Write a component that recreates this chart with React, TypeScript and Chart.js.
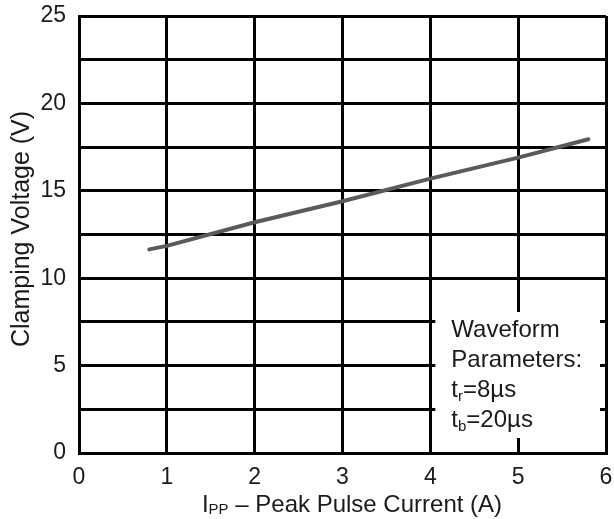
import React, { useEffect, useRef } from 'react';
import { Chart, registerables } from 'chart.js';

Chart.register(...registerables);

const currentA = [0.8, 1, 2, 3, 4, 5, 5.8];
const clampV = [11.65, 11.85, 13.2, 14.4, 15.7, 16.9, 17.95];
const xTickValues = [0, 1, 2, 3, 4, 5, 6];
const yLabelStep = 5;
const yGridStep = 2.5;
const yAxisTitle = 'Clamping Voltage (V)';
const xTitleMain = 'I';
const xTitleSub = 'PP';
const xTitleRest = ' \u2013 Peak Pulse Current (A)';
const noteLines: [string, string, string][] = [
  ['Waveform', '', ''],
  ['Parameters:', '', ''],
  ['t', 'r', '=8\u00b5s'],
  ['t', 'b', '=20\u00b5s'],
];

const FONT = '"Liberation Sans", Arial, sans-serif';
const TEXT = '#1a1a1a';

const annotPlugin = {
  id: 'annot',
  afterDraw(chart: any) {
    const { ctx, chartArea: a, scales } = chart;
    const x = scales.x;
    ctx.save();
    // note box
    const bx0 = x.getPixelForValue(4) + 5;
    const bx1 = x.getPixelForValue(6) - 6;
    const by0 = 312;
    const by1 = a.bottom - 15;
    ctx.fillStyle = '#ffffff';
    ctx.fillRect(bx0, by0, bx1 - bx0, by1 - by0);
    ctx.fillStyle = TEXT;
    ctx.textBaseline = 'alphabetic';
    ctx.textAlign = 'left';
    const tx = bx0 + 16;
    let by = 337;
    noteLines.forEach(([main, sub, rest]) => {
      ctx.font = `24px ${FONT}`;
      ctx.fillText(main, tx, by);
      let cx = tx + ctx.measureText(main).width;
      if (sub) {
        ctx.font = `15px ${FONT}`;
        ctx.fillText(sub, cx, by + 4);
        cx += ctx.measureText(sub).width;
        ctx.font = `24px ${FONT}`;
        ctx.fillText(rest, cx, by);
      }
      by += 29.9;
    });
    // x axis title
    ctx.font = `24px ${FONT}`;
    const w1 = ctx.measureText(xTitleMain).width;
    const w3 = ctx.measureText(xTitleRest).width;
    ctx.font = `15px ${FONT}`;
    const w2 = ctx.measureText(xTitleSub).width;
    const total = w1 + w2 + w3;
    const cx0 = 352 - total / 2;
    const ty = 512;
    ctx.font = `24px ${FONT}`;
    ctx.fillText(xTitleMain, cx0, ty);
    ctx.font = `15px ${FONT}`;
    ctx.fillText(xTitleSub, cx0 + w1, ty + 2);
    ctx.font = `24px ${FONT}`;
    ctx.fillText(xTitleRest, cx0 + w1 + w2, ty);
    // y axis title
    ctx.font = `25px ${FONT}`;
    ctx.translate(22, 229);
    ctx.rotate(-Math.PI / 2);
    ctx.textAlign = 'center';
    ctx.textBaseline = 'middle';
    ctx.fillText(yAxisTitle, 0, 0);
    ctx.restore();
  },
};

export default function App() {
  const ref = useRef<HTMLCanvasElement | null>(null);
  useEffect(() => {
    if (!ref.current) return;
    const chart = new Chart(ref.current, {
      type: 'scatter',
      data: {
        datasets: [
          {
            data: currentA.map((v, i) => ({ x: v, y: clampV[i] })),
            showLine: true,
            borderColor: '#5a5a5a',
            borderWidth: 4,
            borderCapStyle: 'round',
            pointRadius: 0,
            tension: 0,
          },
        ],
      },
      options: {
        animation: false,
        responsive: false,
        maintainAspectRatio: false,
        layout: { padding: { top: 16, right: 8, left: 0, bottom: 0 } },
        plugins: { legend: { display: false }, tooltip: { enabled: false } },
        scales: {
          x: {
            type: 'linear',
            min: 0,
            max: 6,
            afterBuildTicks: (s: any) => {
              s.ticks = xTickValues.map((v) => ({ value: v }));
            },
            afterFit: (s: any) => {
              s.height = 519 - 453;
              s.paddingLeft = 0;
              s.paddingRight = 0;
            },
            grid: { color: '#000', lineWidth: 3, drawTicks: false },
            border: { color: '#000', width: 3 },
            ticks: {
              padding: 11,
              color: TEXT,
              font: { family: FONT, size: 23 },
              maxRotation: 0,
            },
          },
          y: {
            type: 'linear',
            min: 0,
            max: 25,
            ticks: {
              stepSize: yGridStep,
              padding: 13,
              color: TEXT,
              font: { family: FONT, size: 23 },
              callback: (v: any) => (Number(v) % yLabelStep === 0 ? String(v) : ''),
            },
            afterFit: (s: any) => {
              s.width = 79;
              s.paddingTop = 0;
              s.paddingBottom = 0;
            },
            grid: { color: '#000', lineWidth: 3, drawTicks: false },
            border: { color: '#000', width: 3 },
          },
        },
      },
      plugins: [annotPlugin],
    } as any);
    return () => chart.destroy();
  }, []);
  return (
    <div style={{ position: 'fixed', left: 0, top: 0, width: 614, height: 519, background: '#fff' }}>
      <canvas ref={ref} width={614} height={519} style={{ width: 614, height: 519 }} />
    </div>
  );
}
